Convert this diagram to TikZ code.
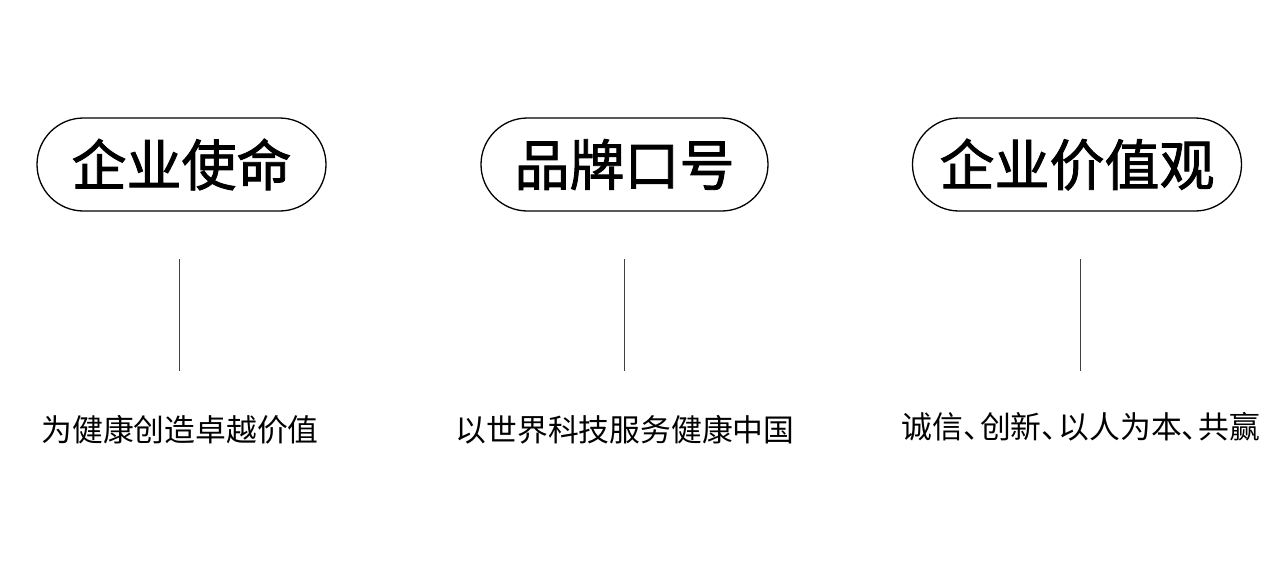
\documentclass[tikz,border=0pt]{standalone}
\usepackage{fontspec}
\newfontfamily\cjk{Noto Sans CJK SC}
\newfontfamily\cjkt{Noto Sans CJK SC}[FakeBold=1.6]
\tikzset{
  pill/.style={draw=black, line width=1.3pt, rounded corners=46.5pt, minimum width=#1, minimum height=93pt, inner sep=0pt, font=\cjkt\fontsize{55}{60}\selectfont},
  stem/.style={draw=black!75, line width=0.9pt},
  body/.style={inner sep=0pt, font=\cjk\fontsize{30.8}{34}\selectfont}
}
\newcommand{\dun}{\makebox[0.55em][l]{、}}
\begin{document}
\begin{tikzpicture}[x=1pt,y=-1pt]
\useasboundingbox[fill=white] (0,0) rectangle (1280,566);
\node[pill=289pt] (p1) at (181.5,164.5) {企业使命};
\node[pill=287pt] (p2) at (624.5,164.5) {品牌口号};
\node[pill=329pt] (p3) at (1077,164.5) {企业价值观};
\coordinate (a1) at (179,259); \coordinate (b1) at (179,371);
\coordinate (a2) at (624,259); \coordinate (b2) at (624,371);
\coordinate (a3) at (1080,259); \coordinate (b3) at (1080,371);
\draw[stem] (a1) -- (b1);
\draw[stem] (a2) -- (b2);
\draw[stem] (a3) -- (b3);
\node[body] (t1) at (180,430) {为健康创造卓越价值};
\node[body] (t2) at (625,430) {以世界科技服务健康中国};
\node[body] (t3) at (1081,427) {诚信\dun 创新\dun 以人为本\dun 共赢};
\end{tikzpicture}
\end{document}
